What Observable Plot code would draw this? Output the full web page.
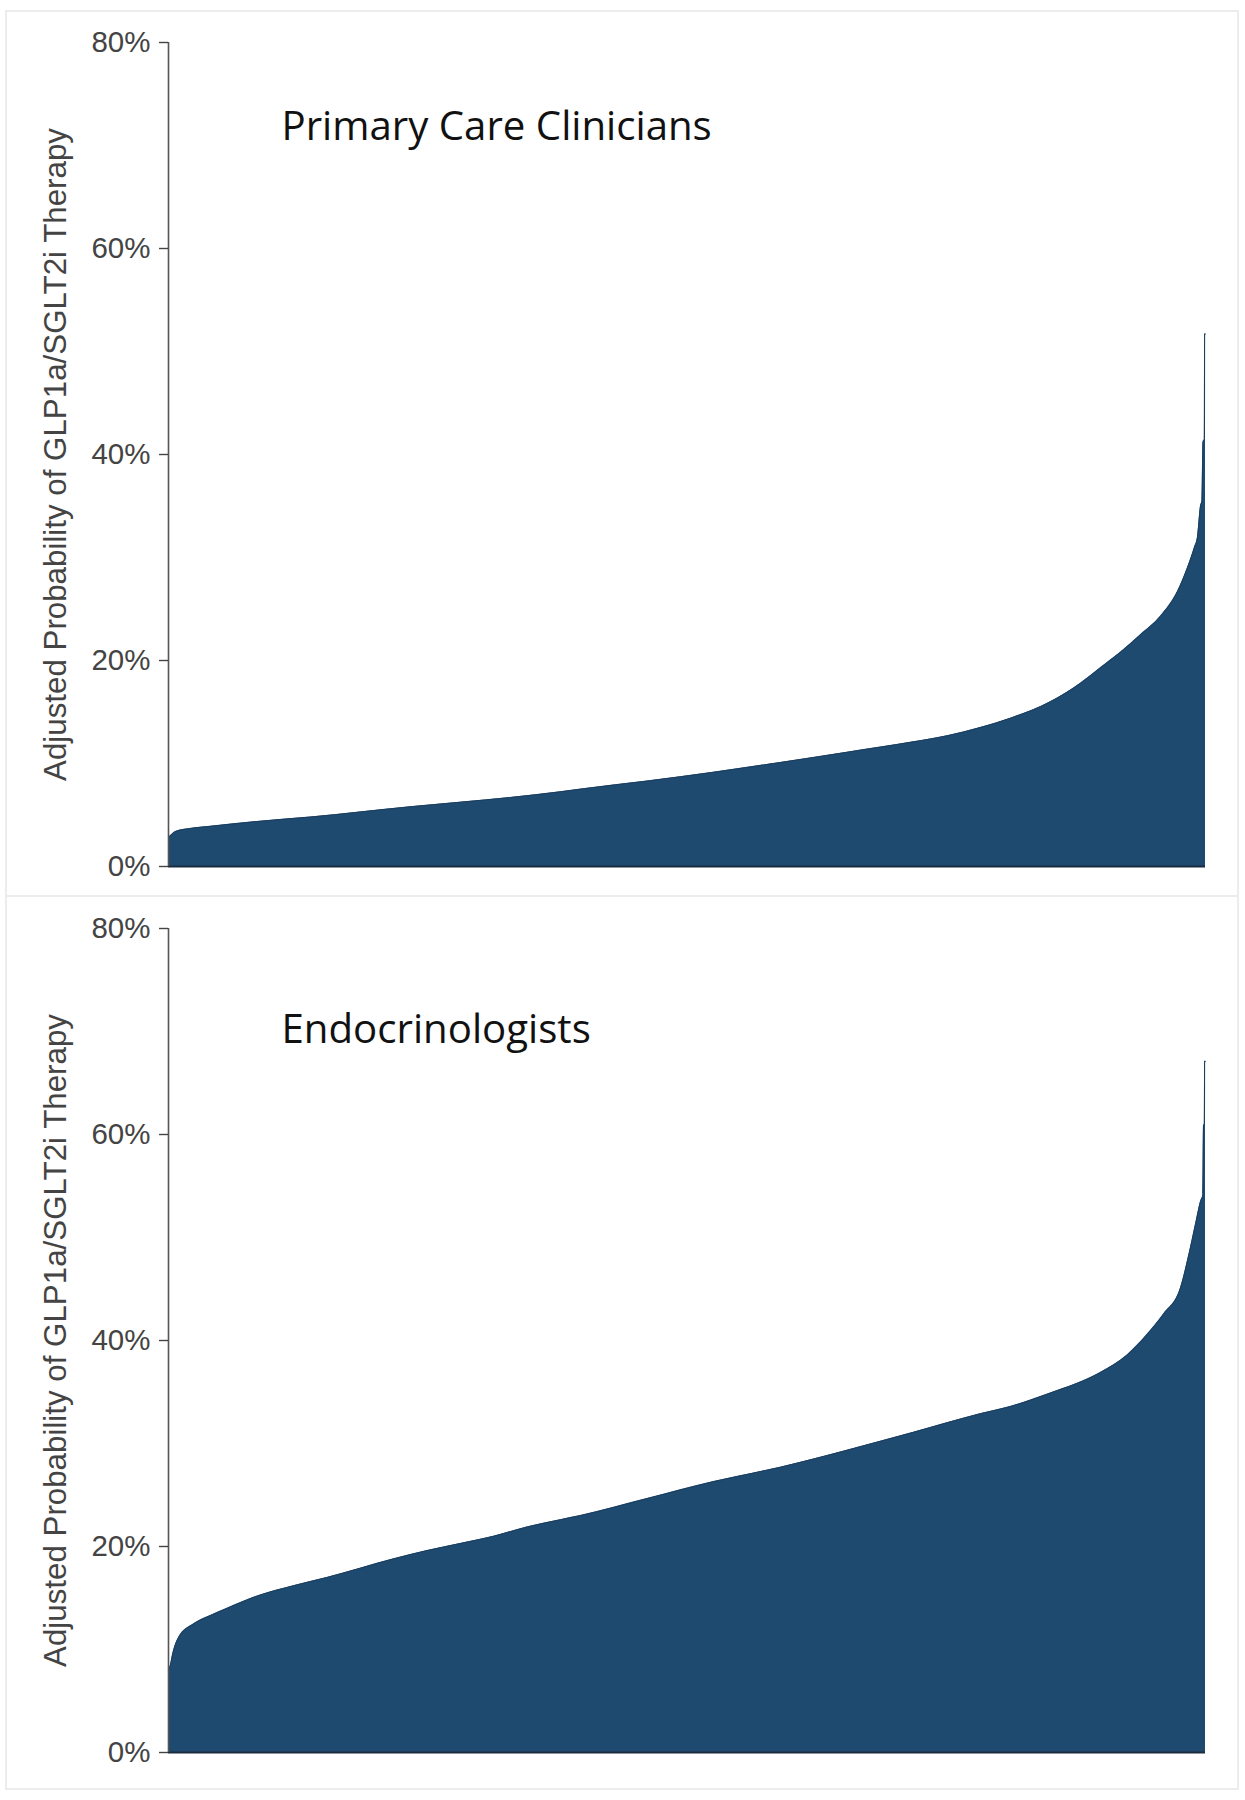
<!DOCTYPE html>
<html>
<head>
<meta charset="utf-8">
<script src="https://cdn.jsdelivr.net/npm/d3@7"></script>
<script src="https://cdn.jsdelivr.net/npm/@observablehq/plot@0.6"></script>
<style>
  html, body { margin: 0; padding: 0; background: #ffffff; }
  #wrap { position: relative; width: 1245px; height: 1800px; overflow: hidden; background: #fff; }
  .panel { position: absolute; left: 0; width: 1245px; }
  .frame { position: absolute; border: 2px solid #ececec; box-sizing: border-box; }
</style>
</head>
<body>
<div id="wrap"></div>
<script>
// ---- Data ----
// x: clinician percentile rank (0–100), y: adjusted probability (%)
const pcpRank = [0, 0.19, 0.68, 2.12, 4.05, 8.87, 13.69, 18.51, 23.34, 28.16, 32.98, 37.80, 40.02, 46.19, 52.56, 59.02, 65.48, 71.84, 75.12, 78.30, 81.20, 85.05, 87.95, 89.87, 91.80, 93.73, 95.66, 97.30, 98.26, 98.94, 99.23, 99.52, 99.66, 99.76, 99.90, 99.92, 100];
const pcpProb = [2.8, 3.0, 3.4, 3.7, 3.9, 4.4, 4.8, 5.3, 5.8, 6.25, 6.7, 7.25, 7.55, 8.3, 9.15, 10.1, 11.1, 12.1, 12.7, 13.5, 14.4, 16.0, 17.8, 19.3, 20.8, 22.5, 24.3, 26.7, 29.0, 31.0, 32.0, 35.0, 35.5, 41.2, 41.5, 51.7, 51.7];

const endoRank = [0, 0.19, 0.39, 0.99, 2.44, 4.05, 5.66, 8.87, 12.08, 15.30, 18.51, 21.73, 24.95, 28.16, 31.37, 34.59, 37.80, 39.73, 46.16, 52.58, 59.02, 65.45, 71.87, 78.30, 81.20, 85.05, 89.87, 92.45, 94.38, 95.98, 97.59, 98.39, 99.04, 99.52, 99.76, 99.81, 99.90, 99.92, 100];
const endoProb = [8.0, 8.5, 9.5, 11.2, 12.5, 13.3, 14.0, 15.3, 16.2, 17.0, 17.9, 18.8, 19.6, 20.3, 21.0, 21.9, 22.6, 23.0, 24.65, 26.3, 27.7, 29.35, 31.1, 32.9, 33.6, 34.9, 36.9, 38.6, 40.6, 42.6, 45.1, 48.3, 51.3, 53.5, 54.2, 60.9, 61.0, 67.1, 67.1];

const yTicks = [0, 20, 40, 60, 80];
const panelTitles = ["Primary Care Clinicians", "Endocrinologists"];
const yTitle = "Adjusted Probability of GLP1a/SGLT2i Therapy";

const toRows = (rank, prob) => rank.map((r, i) => ({rank: r, prob: prob[i]}));

function makePanel(rows, title, height, marginTop, marginBottom, titleDy) {
  return Plot.plot({
    width: 1245,
    height,
    marginLeft: 168,
    marginRight: 40,
    marginTop,
    marginBottom,
    style: {fontFamily: "'Liberation Sans', Arial, sans-serif", background: "transparent", overflow: "visible"},
    x: {domain: [0, 100], axis: null},
    y: {domain: [0, 80], axis: null},
    marks: [
      Plot.areaY(rows, {x: "rank", y: "prob", fill: "#1f4a70", curve: "monotone-x"}),
      Plot.lineY(rows, {x: "rank", y: "prob", stroke: "#1a3d5e", strokeWidth: 1, curve: "monotone-x"}),
      Plot.ruleY([0], {stroke: "#1a2c3e", strokeWidth: 2}),
      Plot.ruleX([0], {stroke: "#555", strokeWidth: 1.6}),
      Plot.axisY({ticks: yTicks, tickFormat: d => d + "%", tickSize: 9, tickPadding: 9, fontSize: 29.5, color: "#444", strokeWidth: 1.4, label: null}),
      Plot.text([yTitle], {frameAnchor: "left", rotate: -90, dx: -103, lineAnchor: "bottom", textAnchor: "middle", fontSize: 31.3, fill: "#444"}),
      Plot.text([title], {frameAnchor: "top-left", dx: 113, dy: titleDy, lineAnchor: "bottom", textAnchor: "start", fontSize: 40.2, fontFamily: "'Open Sans', sans-serif", fill: "#111"})
    ]
  });
}

const wrap = document.getElementById("wrap");

function addFrame(left, top, width, height) {
  const f = document.createElement("div");
  f.className = "frame";
  f.style.left = left + "px"; f.style.top = top + "px";
  f.style.width = width + "px"; f.style.height = height + "px";
  wrap.appendChild(f);
}
addFrame(5, 10, 1234, 887);
addFrame(5, 895, 1234, 895);

const top1 = document.createElement("div");
top1.className = "panel"; top1.style.top = "0px";
top1.appendChild(makePanel(toRows(pcpRank, pcpProb), panelTitles[0], 895, 42, 29, 97));
wrap.appendChild(top1);

const top2 = document.createElement("div");
top2.className = "panel"; top2.style.top = "895px";
top2.appendChild(makePanel(toRows(endoRank, endoProb), panelTitles[1], 905, 33, 48, 114));
wrap.appendChild(top2);
</script>
</body>
</html>
